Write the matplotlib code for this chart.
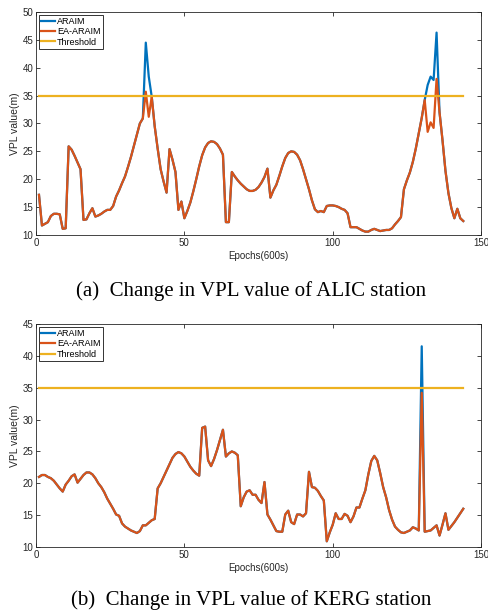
import numpy as np
import matplotlib
matplotlib.use("Agg")
import matplotlib.pyplot as plt

# epochs (600 s each)
epochs = np.arange(1, 145)
threshold = 35

# ALIC station, EA-ARAIM VPL (m)
alic_ea = [
    17.2, 11.7, 12.0, 12.3, 13.4, 13.8, 13.8, 13.7, 11.1, 11.2,
    25.9, 25.3, 24.2, 23.0, 21.8, 12.7, 12.8, 13.9, 14.8, 13.3,
    13.5, 13.8, 14.2, 14.5, 14.5, 15.2, 16.9, 18.0, 19.3, 20.5,
    22.2, 24.0, 26.0, 28.0, 30.0, 30.9, 35.7, 31.2, 34.8, 29.5,
    25.5, 21.8, 19.6, 17.6, 25.4, 23.5, 21.3, 14.5, 16.0, 13.0,
    14.3, 15.8, 17.8, 20.0, 22.3, 24.3, 25.7, 26.5, 26.8, 26.7,
    26.3, 25.5, 24.4, 12.3, 12.3, 21.3, 20.5, 19.8, 19.2, 18.7,
    18.2, 17.9, 17.9, 18.1, 18.6, 19.4, 20.4, 21.9, 16.7, 18.0,
    19.0, 20.6, 22.3, 23.8, 24.7, 25.0, 24.9, 24.4, 23.4, 21.8,
    20.0, 18.2, 16.2, 14.6, 14.1, 14.3, 14.1, 15.2, 15.3, 15.3,
    15.2, 15.0, 14.7, 14.5, 13.9, 11.4, 11.4, 11.4, 11.1, 10.8,
    10.6, 10.6, 10.9, 11.1, 10.9, 10.7, 10.8, 10.9, 10.9, 11.2,
    11.9, 12.5, 13.2, 18.2, 19.8, 21.2, 23.1, 25.5, 28.2, 31.0,
    34.2, 28.5, 30.2, 29.2, 38.0, 32.0, 27.0, 21.5, 17.5, 14.8,
    13.0, 14.7, 13.0, 12.5,
]
# ARAIM equals EA-ARAIM except around the faults
alic_araim = list(alic_ea)
alic_araim[36] = 44.5
alic_araim[37] = 38.4
alic_araim[131] = 36.9
alic_araim[132] = 38.4
alic_araim[133] = 37.8
alic_araim[134] = 46.3

# KERG station, EA-ARAIM VPL (m)
kerg_ea = [
    21.0, 21.3, 21.3, 21.0, 20.8, 20.4, 19.8, 19.2, 18.7, 19.8,
    20.4, 21.1, 21.4, 20.1, 20.7, 21.3, 21.7, 21.7, 21.4, 20.8,
    20.0, 19.4, 18.6, 17.6, 16.8, 16.0, 15.1, 14.9, 13.7, 13.2,
    12.9, 12.6, 12.4, 12.2, 12.5, 13.4, 13.4, 13.8, 14.2, 14.4,
    19.2, 20.0, 21.0, 22.0, 23.0, 24.0, 24.6, 24.9, 24.7, 24.2,
    23.4, 22.6, 22.0, 21.5, 21.2, 28.7, 28.9, 23.6, 22.7, 23.8,
    25.2, 26.8, 28.4, 24.2, 24.7, 25.0, 24.8, 24.4, 16.4, 17.8,
    18.7, 18.9, 18.2, 18.2, 17.4, 16.9, 20.2, 15.1, 14.3, 13.4,
    12.5, 12.4, 12.4, 15.1, 15.7, 13.9, 13.6, 15.1, 15.1, 14.8,
    15.3, 21.8, 19.4, 19.3, 18.8, 18.0, 17.3, 10.9, 12.3, 13.5,
    15.3, 14.4, 14.4, 15.2, 14.9, 13.9, 14.8, 16.2, 16.2, 17.6,
    18.9, 21.4, 23.5, 24.3, 23.6, 21.6, 19.4, 17.8, 15.8, 14.3,
    13.2, 12.7, 12.3, 12.2, 12.4, 12.6, 13.1, 12.9, 12.6, 34.2,
    12.4, 12.5, 12.6, 13.0, 13.4, 11.8, 13.5, 15.3, 12.7, 13.3,
    13.9, 14.6, 15.3, 16.0,
]
kerg_araim = list(kerg_ea)
kerg_araim[129] = 41.5

c_araim = "#0072BD"
c_ea = "#D95319"
c_thr = "#EDB120"

plt.rcParams["font.family"] = ["Liberation Sans", "DejaVu Sans"]

fig = plt.figure(figsize=(4.88, 6.14), dpi=100)
ax1 = fig.add_axes([0.0738, 0.6173, 0.912, 0.3632])
ax2 = fig.add_axes([0.0738, 0.1091, 0.912, 0.3632])


def draw(ax, araim, ea, ylim, yticks):
    ax.plot(epochs, araim, color=c_araim, lw=1.6, label="ARAIM")
    ax.plot(epochs, ea, color=c_ea, lw=1.6, label="EA-ARAIM")
    ax.plot(epochs, [threshold] * len(epochs), color=c_thr, lw=1.6, label="Threshold")
    ax.set_xlim(0, 150)
    ax.set_ylim(*ylim)
    ax.set_xticks([0, 50, 100, 150])
    ax.set_yticks(yticks)
    ax.tick_params(direction="in", top=True, right=True, labelsize=7,
                   length=3, width=0.6, colors="#262626", pad=2)
    for s in ax.spines.values():
        s.set_linewidth(0.6)
        s.set_color("#262626")
    ax.set_xlabel("Epochs(600s)", fontsize=7, color="#262626", labelpad=2)
    ax.set_ylabel("VPL value(m)", fontsize=7.5, color="#262626", labelpad=2)
    leg = ax.legend(loc="upper left", fontsize=6.5, frameon=True, fancybox=False,
                    handlelength=1.6, handletextpad=0.2, borderpad=0.25,
                    labelspacing=0.15, borderaxespad=0.3)
    leg.get_frame().set_edgecolor("black")
    leg.get_frame().set_linewidth(0.7)


draw(ax1, alic_araim, alic_ea, (10, 50), range(10, 51, 5))
draw(ax2, kerg_araim, kerg_ea, (10, 45), range(10, 46, 5))

fig.text(0.514, 1 - 291 / 614, "(a)  Change in VPL value of ALIC station",
         ha="center", va="center", fontsize=15, family="Liberation Serif")
fig.text(0.514, 1 - 600 / 614, "(b)  Change in VPL value of KERG station",
         ha="center", va="center", fontsize=15, family="Liberation Serif")

fig.savefig("out.png", dpi=100)
